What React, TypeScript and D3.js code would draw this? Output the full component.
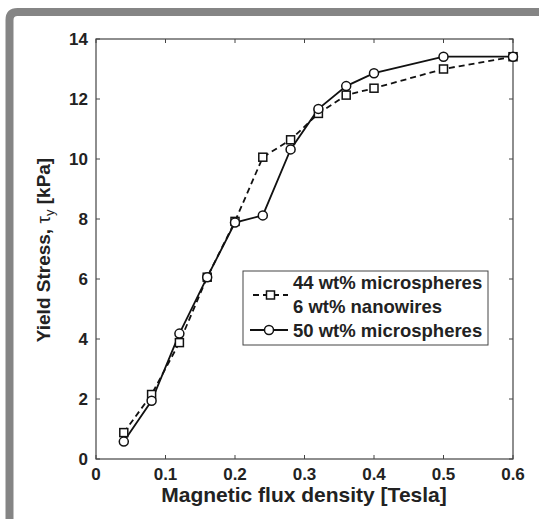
import React from "react";
import * as d3 from "d3";

const fluxDensity = [0.04, 0.08, 0.12, 0.16, 0.2, 0.24, 0.28, 0.32, 0.36, 0.4, 0.5, 0.6];
const mixedYield = [0.88, 2.15, 3.88, 6.06, 7.92, 10.06, 10.64, 11.52, 12.13, 12.36, 13.0, 13.41];
const microYield = [0.58, 1.94, 4.18, 6.06, 7.88, 8.12, 10.32, 11.67, 12.43, 12.86, 13.41, 13.41];
const xTicks = [0, 0.1, 0.2, 0.3, 0.4, 0.5, 0.6];
const yTicks = [0, 2, 4, 6, 8, 10, 12, 14];
const legendLabels = ["44 wt% microspheres", "6 wt% nanowires", "50 wt% microspheres"];

const W = 539;
const H = 519;
const FONT = "'Liberation Sans', Arial, sans-serif";

export default function App() {
  const x = d3.scaleLinear().domain([0, 0.6]).range([96, 513]);
  const y = d3.scaleLinear().domain([0, 14]).range([459, 39]);
  const line = d3
    .line<[number, number]>()
    .x((d) => x(d[0]))
    .y((d) => y(d[1]));
  const s1 = fluxDensity.map((v, i) => [v, mixedYield[i]] as [number, number]);
  const s2 = fluxDensity.map((v, i) => [v, microYield[i]] as [number, number]);
  const [x0, x1] = x.range();
  const [y0, y1] = y.range();

  return (
    <svg
      width={W}
      height={H}
      style={{ position: "absolute", left: 0, top: 0, background: "#fff" }}
      fontFamily={FONT}
    >
      <rect x={0} y={0} width={W} height={H} fill="#fff" />
      {/* gray frame */}
      <path
        d={`M 9.5 ${H} L 9.5 20 Q 9.5 12 17.5 12 L ${W + 10} 12`}
        fill="none"
        stroke="#858585"
        strokeWidth={8}
      />
      {/* axes box */}
      <rect x={x0} y={y1} width={x1 - x0} height={y0 - y1} fill="none" stroke="#444" strokeWidth={1.2} />
      {xTicks.map((t) => (
        <g key={"xt" + t}>
          <line x1={x(t)} x2={x(t)} y1={y0} y2={y0 - 4} stroke="#444" />
          <line x1={x(t)} x2={x(t)} y1={y1} y2={y1 + 4} stroke="#444" />
          <text x={x(t)} y={y0 + 21} textAnchor="middle" fontSize={17} fontWeight="bold" fill="#222">
            {t}
          </text>
        </g>
      ))}
      {yTicks.map((t) => (
        <g key={"yt" + t}>
          <line x1={x0} x2={x0 + 4} y1={y(t)} y2={y(t)} stroke="#444" />
          <line x1={x1} x2={x1 - 4} y1={y(t)} y2={y(t)} stroke="#444" />
          <text x={x0 - 8} y={y(t) + 6} textAnchor="end" fontSize={17} fontWeight="bold" fill="#222">
            {t}
          </text>
        </g>
      ))}
      <text x={304} y={502} textAnchor="middle" fontSize={21} fontWeight="bold" fill="#222">
        Magnetic flux density [Tesla]
      </text>
      <text
        transform={`translate(50, 250) rotate(-90)`}
        textAnchor="middle"
        fontSize={19}
        fontWeight="bold"
        fill="#222"
      >
        Yield Stress, <tspan fontWeight="normal">τ</tspan>
        <tspan fontSize={13} fontWeight="normal" dy={4}>y</tspan>
        <tspan dy={-4}> [kPa]</tspan>
      </text>
      {/* series */}
      <path d={line(s1) || ""} fill="none" stroke="#111" strokeWidth={1.8} strokeDasharray="6,4" />
      <path d={line(s2) || ""} fill="none" stroke="#111" strokeWidth={1.8} />
      {s1.map((d, i) => (
        <rect
          key={"sq" + i}
          x={x(d[0]) - 4}
          y={y(d[1]) - 4}
          width={8}
          height={8}
          fill="#fff"
          stroke="#111"
          strokeWidth={1.5}
        />
      ))}
      {s2.map((d, i) => (
        <circle key={"ci" + i} cx={x(d[0])} cy={y(d[1])} r={4.5} fill="#fff" stroke="#111" strokeWidth={1.5} />
      ))}
      {/* legend */}
      <rect x={243} y={271} width={245} height={74} fill="#fff" stroke="#444" strokeWidth={1} />
      <line x1={253} x2={288} y1={295} y2={295} stroke="#111" strokeWidth={1.8} strokeDasharray="6,4" />
      <rect x={266.5} y={291} width={8} height={8} fill="#fff" stroke="#111" strokeWidth={1.5} />
      <line x1={250} x2={288} y1={330} y2={330} stroke="#111" strokeWidth={1.8} />
      <circle cx={269} cy={330} r={4.5} fill="#fff" stroke="#111" strokeWidth={1.5} />
      {legendLabels.map((l, i) => (
        <text key={l} x={293} y={289 + i * 24} fontSize={18.5} fontWeight="bold" fill="#222">
          {l}
        </text>
      ))}
    </svg>
  );
}
